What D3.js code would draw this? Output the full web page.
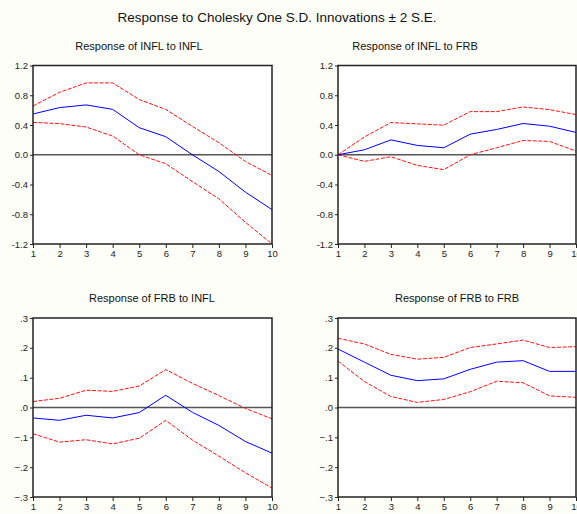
<!DOCTYPE html>
<html>
<head>
<meta charset="utf-8">
<script src="https://cdn.jsdelivr.net/npm/d3@7"></script>
<style>
  body { margin: 0; background: #fefef9; }
  svg { display: block; font-family: "Liberation Sans", Arial, sans-serif; }
</style>
</head>
<body>
<svg id="chart" width="577" height="514"></svg>
<script>
// Impulse responses, periods 1..10
const periods = [1, 2, 3, 4, 5, 6, 7, 8, 9, 10];

const inflInflResp  = [0.548, 0.634, 0.67, 0.61, 0.364, 0.243, 0.0, -0.225, -0.503, -0.737];
const inflInflUpper = [0.656, 0.84, 0.966, 0.966, 0.742, 0.61, 0.382, 0.162, -0.09, -0.279];
const inflInflLower = [0.436, 0.418, 0.373, 0.252, 0.0, -0.121, -0.36, -0.593, -0.908, -1.2];

const inflFrbResp  = [0.0, 0.067, 0.2, 0.125, 0.094, 0.277, 0.34, 0.42, 0.384, 0.3];
const inflFrbUpper = [0.0, 0.24, 0.433, 0.415, 0.398, 0.58, 0.58, 0.643, 0.607, 0.54];
const inflFrbLower = [0.0, -0.089, -0.027, -0.143, -0.2, 0.0, 0.094, 0.192, 0.179, 0.05];

const frbInflResp  = [-0.035, -0.043, -0.026, -0.035, -0.017, 0.041, -0.016, -0.06, -0.114, -0.153];
const frbInflUpper = [0.02, 0.031, 0.058, 0.054, 0.072, 0.127, 0.081, 0.04, -0.003, -0.038];
const frbInflLower = [-0.088, -0.116, -0.108, -0.122, -0.103, -0.043, -0.109, -0.163, -0.219, -0.27];

const frbFrbResp  = [0.196, 0.152, 0.108, 0.09, 0.096, 0.128, 0.152, 0.157, 0.121, 0.121];
const frbFrbUpper = [0.232, 0.213, 0.178, 0.162, 0.168, 0.201, 0.213, 0.226, 0.201, 0.204];
const frbFrbLower = [0.156, 0.087, 0.037, 0.017, 0.027, 0.053, 0.088, 0.083, 0.039, 0.034];

const inflTicks = [1.2, 0.8, 0.4, 0.0, -0.4, -0.8, -1.2];
const frbTicks  = [0.3, 0.2, 0.1, 0.0, -0.1, -0.2, -0.3];

const mainTitle = "Response to Cholesky One S.D. Innovations \u00b1 2 S.E.";

// -------------------------------------------------------------
// Panel layout
// -------------------------------------------------------------
const panels = [
  { title: "Response of INFL to INFL", titleX: 139, x0: 33, x1: 272, y0: 65.5, y1: 244,
    ticks: inflTicks, fmt: d => d.toFixed(1), resp: inflInflResp, up: inflInflUpper, lo: inflInflLower },
  { title: "Response of INFL to FRB", titleX: 415, x0: 338, x1: 576, y0: 65.5, y1: 244,
    ticks: inflTicks, fmt: d => d.toFixed(1), resp: inflFrbResp, up: inflFrbUpper, lo: inflFrbLower },
  { title: "Response of FRB to INFL", titleX: 152, x0: 33, x1: 272, y0: 318, y1: 497,
    ticks: frbTicks, fmt: d => d3.format(".1f")(d).replace("0.", "."), resp: frbInflResp, up: frbInflUpper, lo: frbInflLower },
  { title: "Response of FRB to FRB", titleX: 457, x0: 338, x1: 576, y0: 318, y1: 497,
    ticks: frbTicks, fmt: d => d3.format(".1f")(d).replace("0.", "."), resp: frbFrbResp, up: frbFrbUpper, lo: frbFrbLower }
];

const svg = d3.select("#chart");

svg.append("text")
  .attr("x", 277)
  .attr("y", 22)
  .attr("text-anchor", "middle")
  .attr("font-size", 13.5)
  .attr("fill", "#111")
  .text(mainTitle);

panels.forEach(p => {
  const x = d3.scaleLinear().domain([1, 10]).range([p.x0, p.x1]);
  const y = d3.scaleLinear().domain(d3.extent(p.ticks)).range([p.y1, p.y0]);

  const g = svg.append("g");

  g.append("text")
    .attr("x", p.titleX)
    .attr("y", p.y0 - 16)
    .attr("text-anchor", "middle")
    .attr("font-size", 11)
    .attr("fill", "#111")
    .text(p.title);

  // plot area
  g.append("rect")
    .attr("x", p.x0).attr("y", p.y0)
    .attr("width", p.x1 - p.x0).attr("height", p.y1 - p.y0)
    .attr("fill", "#fff");

  // zero line
  g.append("line")
    .attr("x1", p.x0).attr("x2", p.x1)
    .attr("y1", y(0)).attr("y2", y(0))
    .attr("stroke", "#555").attr("stroke-width", 1.3);

  const line = d3.line().x((d, i) => x(periods[i])).y(d => y(d));

  [p.up, p.lo].forEach(s => {
    g.append("path")
      .attr("d", line(s))
      .attr("fill", "none")
      .attr("stroke", "#ff1010")
      .attr("stroke-width", 1)
      .attr("stroke-dasharray", "4,1.5");
  });

  g.append("path")
    .attr("d", line(p.resp))
    .attr("fill", "none")
    .attr("stroke", "#0000ff")
    .attr("stroke-width", 1);

  // frame
  g.append("rect")
    .attr("x", p.x0).attr("y", p.y0)
    .attr("width", p.x1 - p.x0).attr("height", p.y1 - p.y0)
    .attr("fill", "none")
    .attr("stroke", "#222")
    .attr("stroke-width", 1.5);

  // axes
  const yAxis = g.append("g")
    .attr("transform", `translate(${p.x0},0)`)
    .call(d3.axisLeft(y).tickValues(p.ticks).tickFormat(p.fmt).tickSize(3).tickPadding(2));
  const xAxis = g.append("g")
    .attr("transform", `translate(0,${p.y1})`)
    .call(d3.axisBottom(x).tickValues(periods).tickFormat(d3.format("d")).tickSize(4).tickPadding(2));

  [yAxis, xAxis].forEach(a => {
    a.select(".domain").remove();
    a.selectAll("line").attr("stroke", "#222");
    a.selectAll("text")
      .attr("font-size", 9.5)
      .attr("fill", "#222")
      .attr("font-family", "\"Liberation Sans\", Arial, sans-serif");
  });
});
</script>
</body>
</html>
